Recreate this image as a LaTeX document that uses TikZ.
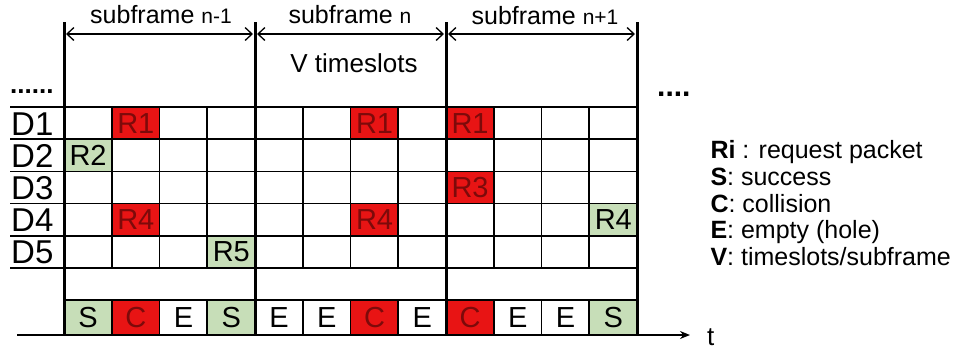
\documentclass[tikz,border=0pt]{standalone}
\usepackage{fontspec}
\setmainfont{Liberation Sans}
\usetikzlibrary{arrows.meta}
\definecolor{slotred}{RGB}{232,20,20}
\definecolor{slotgreen}{RGB}{199,222,184}
\definecolor{darkred}{RGB}{125,10,10}

\begin{document}
\begin{tikzpicture}[x=1pt, y=-1pt, line join=round,
    grid line/.style={line width=1.6pt},
    frame line/.style={line width=3pt},
    dim arrow/.style={line width=1.3pt, {Straight Barb[length=7pt,width=13pt]}-{Straight Barb[length=7pt,width=13pt]}},
    cell/.style={anchor=north west, inner sep=0pt, minimum width=47.75pt, minimum height=32.2pt, font=\fontsize{29}{30}\selectfont},
    red slot/.style={fill=slotred, text=darkred},
    green slot/.style={fill=slotgreen},
    res S/.style={green slot}, res C/.style={red slot}, res E/.style={},
    title/.style={anchor=base, font=\fontsize{25}{27}\selectfont},
    legend/.style={anchor=base west, font=\fontsize{25}{27}\selectfont}]
\useasboundingbox (0,0) rectangle (974,354);

% request packets in the slots
\foreach \col/\row/\lab in {2/1/R1, 7/1/R1, 9/1/R1, 9/3/R3, 2/4/R4, 7/4/R4}
  \node[cell, red slot] (c\row-\col) at ({64+(\col-1)*47.75},{107+(\row-1)*32.2}) {\lab};
\foreach \col/\row/\lab in {1/2/R2, 12/4/R4, 4/5/R5}
  \node[cell, green slot] (c\row-\col) at ({64+(\col-1)*47.75},{107+(\row-1)*32.2}) {\lab};

% outcome of each slot
\foreach \lab [count=\i] in {S,C,E,S,E,E,C,E,C,E,E,S}
  \node[cell, minimum height=35pt, res \lab] (out\i) at ({64+(\i-1)*47.75},300) {\lab};

% grid
\foreach \yy in {107,139.2,171.4,203.6,235.8,268}
  \draw[grid line] (10,\yy) -- (637,\yy);
\draw[grid line] (64,300) -- (637,300);
\foreach \i in {1,2,3,5,6,7,9,10,11} {
  \draw[grid line] ({64+\i*47.75},107) -- ({64+\i*47.75},268);
  \draw[grid line] ({64+\i*47.75},300) -- ({64+\i*47.75},335);
}
\foreach \i in {0,1,2,3}
  \draw[frame line] ({64+\i*191},22) -- ({64+\i*191},335);

% subframes
\foreach \i in {0,1,2,3}
  \coordinate (f\i) at ({64+\i*191},34);
\draw[dim arrow] ([xshift=2pt]f0) -- ([xshift=-2pt]f1);
\draw[dim arrow] ([xshift=2pt]f1) -- ([xshift=-2pt]f2);
\draw[dim arrow] ([xshift=2pt]f2) -- ([xshift=-2pt]f3);
\node[title] (sub1) at (161,23) {subframe {\fontsize{21}{22}\selectfont n-1}};
\node[title] (sub2) at (350,23) {subframe {\fontsize{21}{22}\selectfont n}};
\node[title] (sub3) at (545,24) {subframe {\fontsize{21}{22}\selectfont n+1}};
\node[title, font=\fontsize{26}{28}\selectfont] (vslots) at (354,72) {V timeslots};

% devices
\foreach \k in {1,...,5}
  \node[anchor=base west, inner sep=0pt, font=\fontsize{33}{34}\selectfont] (dev\k) at (11,{135+(\k-1)*32.2}) {D\k};
\node[anchor=base west, inner sep=0pt, font=\fontsize{26}{26}\selectfont\bfseries] (ldots) at (10,93) {......};
\node[anchor=base west, inner sep=0pt, font=\fontsize{30}{30}\selectfont\bfseries] (rdots) at (657,96) {....};

% time axis
\coordinate (axisstart) at (17,335);
\coordinate (axisend) at (690,335);
\draw[grid line, -{Stealth[length=10pt,width=8pt]}] (axisstart) -- (axisend);
\node[anchor=base west, inner sep=0pt, font=\fontsize{26}{27}\selectfont] (tlabel) at (707,345) {t};

% legend
\node[legend] (leg1) at (707,158) {\textbf{Ri} : request packet};
\node[legend] (leg2) at (707,185) {\textbf{S}: success};
\node[legend] (leg3) at (707,212) {\textbf{C}: collision};
\node[legend] (leg4) at (707,238) {\textbf{E}: empty (hole)};
\node[legend] (leg5) at (707,265) {\textbf{V}: timeslots/subframe};
\end{tikzpicture}
\end{document}
